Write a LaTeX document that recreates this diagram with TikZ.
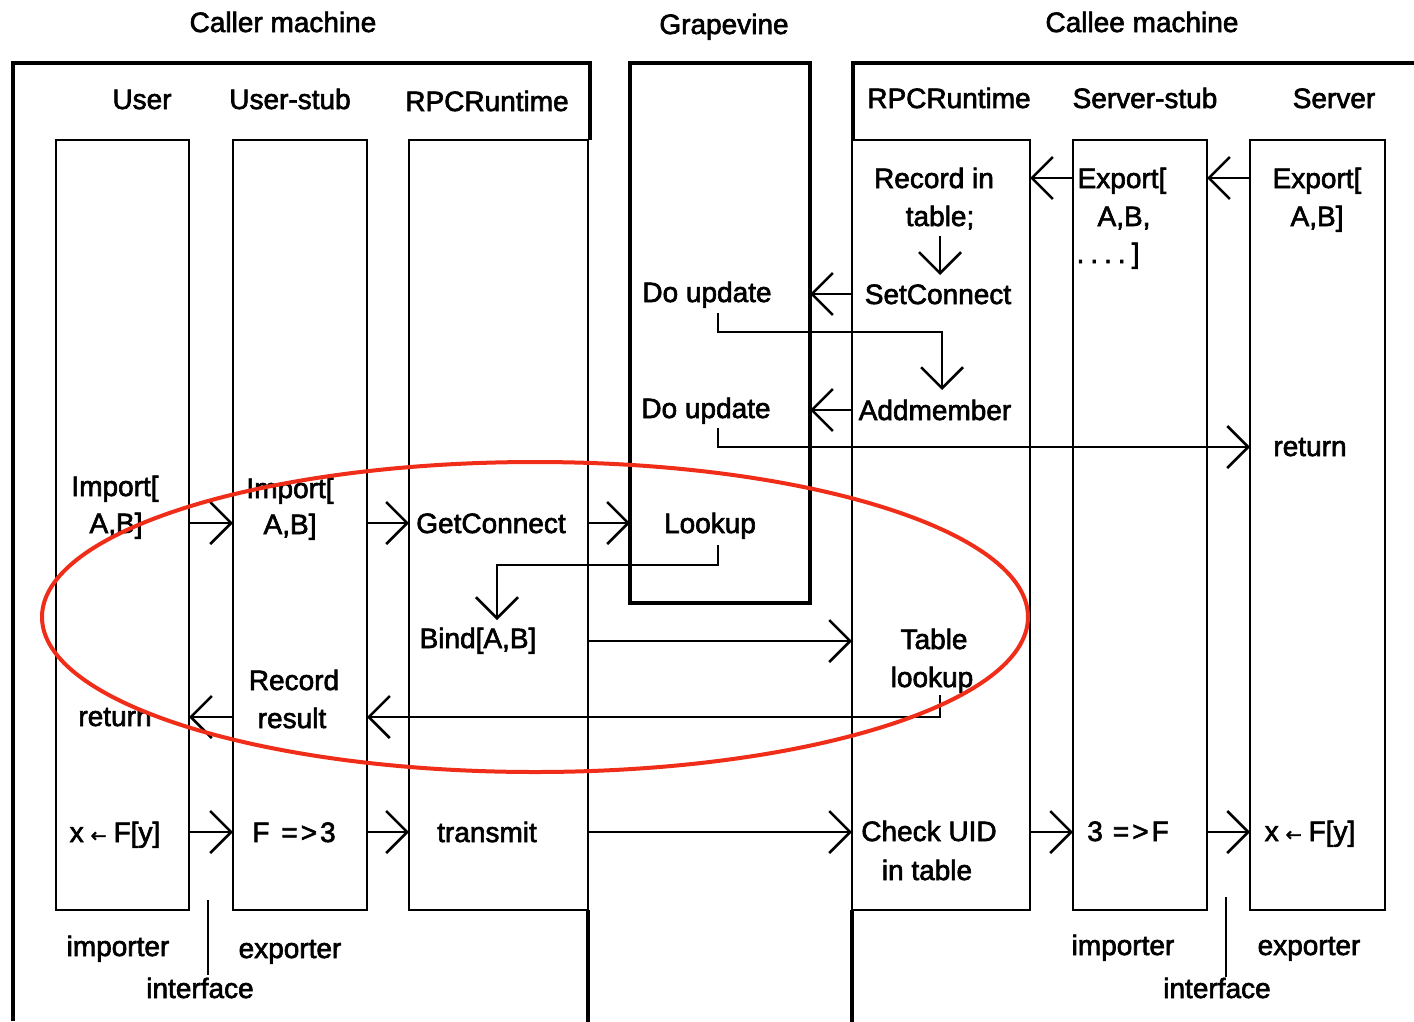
\documentclass[tikz,border=0pt]{standalone}
\usepackage{fontspec}
\setmainfont{Liberation Sans}[FakeBold=2.2]
\newfontfamily\symfont{DejaVu Sans}[FakeBold=2.2]
\usetikzlibrary{arrows.meta,calc}
\definecolor{ovalred}{RGB}{240,45,25}
\newcommand{\getsarrow}{{\symfont\fontsize{19}{19}\selectfont ←}}

\begin{document}
\begin{tikzpicture}[x=1pt,y=-1pt,
  font=\fontsize{28}{34}\selectfont,
  frame/.style={line width=4.5pt},
  lane/.style={draw, line width=2.5pt, rectangle, inner sep=0pt, outer sep=0pt,
               anchor=north west, minimum height=770pt},
  lbl/.style={inner sep=0pt, anchor=base},
  arr/.style={line width=2.5pt, -{Straight Barb[length=21pt,width=42pt]}},
  plain/.style={line width=2.5pt},
  loop/.style={draw=ovalred, line width=4pt}]

\fill[white] (0,0) rectangle (1414,1021);
\useasboundingbox (0,0) rectangle (1414,1021);

% machine frames
\draw[frame] (13,1021) -- (13,63) -- (590,63) -- (590,140);
\node[draw, frame, inner sep=0pt, outer sep=0pt, anchor=north west,
      minimum width=180pt, minimum height=540pt] (gv) at (630,63) {};
\draw[frame] (1420,63) -- (853,63) -- (853,140);

% lanes
\node[lane, minimum width=133pt] (user)   at (56,140)   {};
\node[lane, minimum width=134pt] (ustub)  at (233,140)  {};
\node[lane, minimum width=179pt] (rpcL)   at (409,140)  {};
\node[lane, minimum width=178pt] (rpcR)   at (852,140)  {};
\node[lane, minimum width=134pt] (sstub)  at (1073,140) {};
\node[lane, minimum width=135pt] (server) at (1250,140) {};

\draw[frame] (rpcL.south east) -- ++(0,115);
\draw[frame] (rpcR.south west) -- ++(0,115);

% headings
\node[lbl] (hcaller) at (283,32)  {Caller machine};
\node[lbl] (hgv)     at (724,34)  {Grapevine};
\node[lbl] (hcallee) at (1142,32) {Callee machine};

\node[lbl] (tuser)   at (142,109)  {User};
\node[lbl] (tustub)  at (290,109)  {User-stub};
\node[lbl] (trpcL)   at (487,111)  {RPCRuntime};
\node[lbl] (trpcR)   at (949,108)  {RPCRuntime};
\node[lbl] (tsstub)  at (1145,108) {Server-stub};
\node[lbl] (tserver) at (1334,108) {Server};

% texts inside the lanes
\node[lbl] (uimp1)  at (115,496) {Import[};
\node[lbl] (uimp2)  at (116,533) {A,B]};
\node[lbl] (uret)   at (115,726) {return};
\node[lbl] (ucall)  at (115,842) {x\hspace{7pt}\getsarrow\hspace{7pt}F[y]};

\node[lbl] (simp1)  at (290,498) {Import[};
\node[lbl] (simp2)  at (290,534) {A,B]};
\node[lbl] (srec1)  at (294,690) {Record};
\node[lbl] (srec2)  at (292,728) {result};
\node[lbl] (scall)  at (294,842) {F\hspace{12pt}=\hspace{3pt}>\hspace{3pt}3};

\node[lbl] (getc)   at (491,533) {GetConnect};
\node[lbl] (bind)   at (478,648) {Bind[A,B]};
\node[lbl] (trans)  at (487,842) {transmit};

\node[lbl] (du1)    at (707,302) {Do update};
\node[lbl] (du2)    at (706,418) {Do update};
\node[lbl] (lookup) at (710,533) {Lookup};

\node[lbl] (trec)   at (934,188) {Record in};
\node[lbl] (ttable) at (940,226) {table;};
\node[lbl] (setc)   at (938,304) {SetConnect};
\node[lbl] (addm)   at (935,420) {Addmember};
\node[lbl] (ttab)   at (934,649) {Table};
\node[lbl] (tlook)  at (932,687) {lookup};
\node[lbl] (chk1)   at (929,841) {Check UID};
\node[lbl] (chk2)   at (927,880) {in table};

\node[lbl] (sexp1)  at (1122,188) {Export[};
\node[lbl] (sexp2)  at (1124,226) {A,B,};
\node[lbl] (sexp3)  at (1108,263) {.\hspace{6pt}.\hspace{6pt}.\hspace{6pt}.\hspace{6pt}]};
\node[lbl] (sdisp)  at (1128,841) {3\hspace{10pt}=\hspace{3pt}>\hspace{3pt}F};

\node[lbl] (vexp1)  at (1317,188) {Export[};
\node[lbl] (vexp2)  at (1317,226) {A,B]};
\node[lbl] (vret)   at (1310,456) {return};
\node[lbl] (vcall)  at (1310,841) {x\hspace{7pt}\getsarrow\hspace{7pt}F[y]};

\node[lbl] (limp)   at (118,956)  {importer};
\node[lbl] (lexp)   at (290,958)  {exporter};
\node[lbl] (lif)    at (200,998)  {interface};
\node[lbl] (rimp)   at (1123,955) {importer};
\node[lbl] (rexp)   at (1309,955) {exporter};
\node[lbl] (rif)    at (1217,998) {interface};

% interface markers
\coordinate (ifL) at (208,900);
\coordinate (ifR) at (1226,897);
\draw[plain] (ifL) -- ++(0,75);
\draw[plain] (ifR) -- ++(0,80);

% message rows
\coordinate (rowExp)    at (0,178);
\coordinate (rowSet)    at (0,294);
\coordinate (rowAdd)    at (0,410);
\coordinate (rowSrvRet) at (0,447);
\coordinate (rowImp)    at (0,523);
\coordinate (rowBind)   at (0,641);
\coordinate (rowRet)    at (0,717);
\coordinate (rowCall)   at (0,832);

% export
\draw[arr] (server.west |- rowExp) -- (sstub.east |- rowExp);
\draw[arr] (sstub.west |- rowExp) -- (rpcR.east |- rowExp);
\draw[arr] ([shift={(0,10)}]ttable.base) -- ([shift={(2,-29)}]setc.base);
\draw[arr] (rpcR.west |- rowSet) -- (gv.east |- rowSet);
\draw[arr] ([shift={(11,11)}]du1.base) -- ++(0,19) -| ([shift={(7,-30)}]addm.base);
\draw[arr] (rpcR.west |- rowAdd) -- (gv.east |- rowAdd);
\draw[arr] ([shift={(12,10)}]du2.base) -- ++(0,19) -- (server.west |- rowSrvRet);

% import
\draw[arr] (user.east |- rowImp) -- (ustub.west |- rowImp);
\draw[arr] (ustub.east |- rowImp) -- (rpcL.west |- rowImp);
\draw[arr] (rpcL.east |- rowImp) -- (gv.west |- rowImp);
\draw[arr] ([shift={(8,12)}]lookup.base) -- ++(0,20) -| ([shift={(19,-28)}]bind.base);
\draw[arr] (rpcL.east |- rowBind) -- (rpcR.west |- rowBind);
\draw[arr] ([shift={(8,8)}]tlook.base) -- ++(0,22) -- (ustub.east |- rowRet);
\draw[arr] (ustub.west |- rowRet) -- (user.east |- rowRet);

% call
\draw[arr] (user.east |- rowCall) -- (ustub.west |- rowCall);
\draw[arr] (ustub.east |- rowCall) -- (rpcL.west |- rowCall);
\draw[arr] (rpcL.east |- rowCall) -- (rpcR.west |- rowCall);
\draw[arr] (rpcR.east |- rowCall) -- (sstub.west |- rowCall);
\draw[arr] (sstub.east |- rowCall) -- (server.west |- rowCall);

% binding steps ringed
\draw[loop] (535,617) ellipse [x radius=493, y radius=155];

\end{tikzpicture}
\end{document}
